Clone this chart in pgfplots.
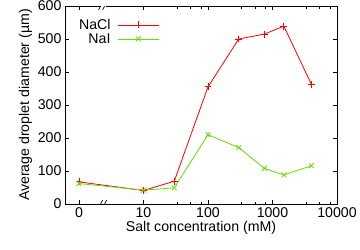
\documentclass[border=0pt]{standalone}
\usepackage{pgfplots}
\pgfplotsset{compat=1.18}
\usepackage{fontspec}
\setmainfont{Liberation Sans}
\definecolor{naclred}{RGB}{255,0,0}
\definecolor{naigreen}{RGB}{100,222,0}
\newcommand{\fs}{\fontsize{14.2}{16}\selectfont}
\begin{document}
\begin{tikzpicture}
\begin{axis}[
  scale only axis,
  width=272bp, height=198bp,
  xmin=-0.217, xmax=4,
  ymin=0, ymax=600,
  xtick={0,1,2,3,4},
  xticklabels={0,10,100,1000,10000},
  minor xtick={1.52,1.73,1.89,2.52,2.73,2.89,3.52,3.73,3.89},
  ytick={0,100,200,300,400,500,600},
  tick align=inside,
  major tick length=4bp,
  minor tick length=2.5bp,
  tick style={black, line width=0.5pt},
  axis line style={line width=0.9pt},
  /pgf/number format/assume math mode=true,
  tick label style={font=\fs},
  label style={font=\fs},
  xlabel={Salt concentration (mM)},
  ylabel={Average droplet diameter (µm)},
  xlabel style={yshift=3bp},
  ylabel style={yshift=-1bp},
  legend plot pos=right,
  legend cell align=right,
  legend style={at={(0.04,0.95)}, anchor=north west, draw=none, fill=none, font=\fs, row sep=-1.5pt, inner sep=1pt,
    /tikz/every odd column/.append style={column sep=5bp}},
  legend image code/.code={\draw[mark repeat=2,mark phase=2,#1] plot coordinates {(0cm,0cm) (0.72cm,0cm) (1.44cm,0cm)};},
]
\addplot[color=naclred, line width=0.8pt, mark=+, mark size=3.5pt, mark options={line width=0.8pt}] coordinates {
  (0,67) (1,41) (1.477,69) (2,355) (2.477,500) (2.875,515) (3.176,539) (3.602,363)
};
\addlegendentry{NaCl}
\addplot[color=naigreen, line width=0.8pt, mark=x, mark size=3.5pt, mark options={line width=0.8pt}] coordinates {
  (0,62) (1,42) (1.477,49) (2,210) (2.477,171) (2.875,108) (3.176,88) (3.602,116)
};
\addlegendentry{NaI}
% axis break marks
\fill[white] (axis cs:0.35,0) ++(-0.5bp,-1.5bp) rectangle ++(5bp,3bp);
\fill[white] (axis cs:0.35,600) ++(-0.5bp,-1.5bp) rectangle ++(5bp,3bp);
\draw[line width=0.6pt] (axis cs:0.35,0) ++(-3bp,-4bp) -- ++(4bp,8bp);
\draw[line width=0.6pt] (axis cs:0.35,0) ++(1bp,-4bp) -- ++(4bp,8bp);
\draw[line width=0.6pt] (axis cs:0.35,600) ++(-3bp,-4bp) -- ++(4bp,8bp);
\draw[line width=0.6pt] (axis cs:0.35,600) ++(1bp,-4bp) -- ++(4bp,8bp);
\end{axis}
\pgfresetboundingbox
\useasboundingbox (current axis.south west) ++(-65bp,-46bp) rectangle ++(360bp,250bp);
\end{tikzpicture}
\end{document}
